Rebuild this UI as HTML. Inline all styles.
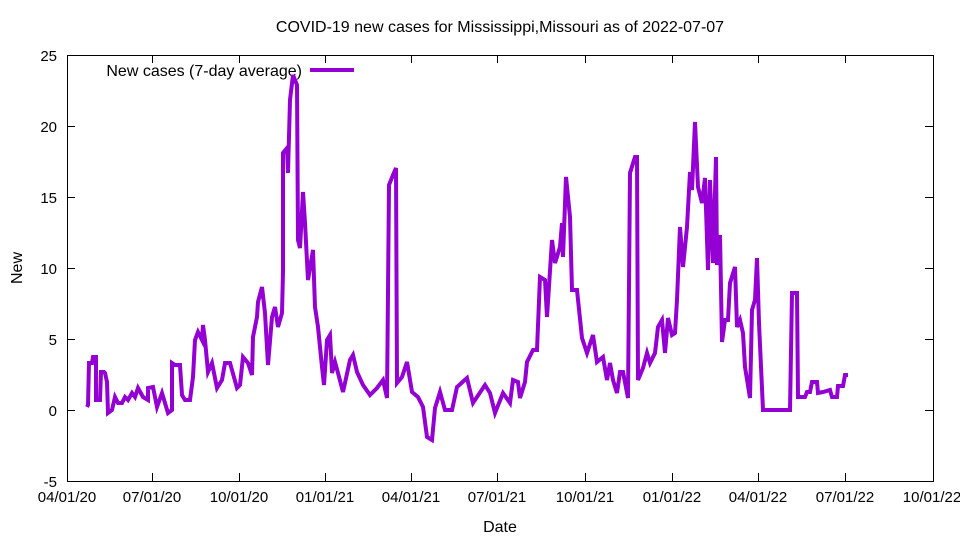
<!DOCTYPE html>
<html><head><meta charset="utf-8"><style>
html,body{margin:0;padding:0;background:#fff;}
svg text{font-family:"Liberation Sans",sans-serif;font-size:16px;fill:#000;}
svg .t{font-size:15px;}
</style></head><body>
<svg width="960" height="540" viewBox="0 0 960 540" xmlns="http://www.w3.org/2000/svg">
<rect width="960" height="540" fill="#fff"/>
<text x="500" y="32" text-anchor="middle">COVID-19 new cases for Mississippi,Missouri as of 2022-07-07</text>
<g stroke="#000" stroke-width="1" fill="none">
<rect x="67.5" y="55.5" width="866" height="426"/>
<path d="M67 55.5h8M933 55.5h-8M67 126.5h8M933 126.5h-8M67 197.5h8M933 197.5h-8M67 268.5h8M933 268.5h-8M67 339.5h8M933 339.5h-8M67 410.5h8M933 410.5h-8M67 481.5h8M933 481.5h-8"/>
<path d="M67.5 481v-8M67.5 55v8M152.5 481v-8M152.5 55v8M239.5 481v-8M239.5 55v8M325.5 481v-8M325.5 55v8M411.5 481v-8M411.5 55v8M497.5 481v-8M497.5 55v8M585.5 481v-8M585.5 55v8M672.5 481v-8M672.5 55v8M758.5 481v-8M758.5 55v8M845.5 481v-8M845.5 55v8M933.5 481v-8M933.5 55v8"/>
</g>
<g text-anchor="end" class="t">
<text class="t" x="57" y="61">25</text><text class="t" x="57" y="132">20</text><text class="t" x="57" y="203">15</text><text class="t" x="57" y="274">10</text><text class="t" x="57" y="345">5</text><text class="t" x="57" y="416">0</text><text class="t" x="57" y="487">-5</text>
</g>
<g text-anchor="middle">
<text class="t" x="67" y="502">04/01/20</text><text class="t" x="152" y="502">07/01/20</text><text class="t" x="239" y="502">10/01/20</text><text class="t" x="325" y="502">01/01/21</text><text class="t" x="411" y="502">04/01/21</text><text class="t" x="497" y="502">07/01/21</text><text class="t" x="585" y="502">10/01/21</text><text class="t" x="672" y="502">01/01/22</text><text class="t" x="758" y="502">04/01/22</text><text class="t" x="845" y="502">07/01/22</text><text class="t" x="932" y="502">10/01/22</text>
<text x="500" y="532">Date</text>
<text transform="translate(22,268) rotate(-90)">New</text>
</g>
<text x="302" y="76" text-anchor="end">New cases (7-day average)</text>
<line x1="310" y1="70" x2="354" y2="70" stroke="#9400d3" stroke-width="4"/>
<polyline fill="none" stroke="#9400d3" stroke-width="4" stroke-linejoin="miter" points="87,407 88,405 89,363 92,363 93,357 96,357 96,400 100,400 101,372 104,372 105,373 107,382 108,413 112,410 115,397 118,403 122,403 125,397 128,400 132,393 135,397 138,388 143,397 148,400 148,388 153,387 157,407 162,393 168,413 172,410 172,363 175,365 180,365 182,395 185,400 190,400 193,377 195,340 198,332 202,340 203,325 205,340 208,372 212,363 217,388 222,380 225,363 230,363 237,388 240,385 243,357 248,363 252,375 253,337 257,317 258,302 262,287 265,313 268,365 272,317 275,307 278,327 282,313 283,272 283,153 287,148 288,173 290,100 293,75 297,85 298,240 300,248 303,192 305,223 308,280 313,250 315,307 318,327 322,367 324,385 327,340 330,335 332,373 335,362 338,373 343,392 350,360 353,355 357,372 363,385 370,395 377,388 383,380 387,398 389,185 393,175 396,168 397,383 402,377 407,362 410,380 412,392 418,397 423,407 427,437 432,440 435,408 440,392 445,410 452,410 457,387 467,378 473,403 485,385 490,393 495,413 503,393 510,403 513,380 518,382 520,398 525,382 527,362 533,350 537,350 540,277 545,280 547,317 552,240 555,263 560,247 562,223 563,257 566,177 570,217 572,290 577,290 582,338 587,353 593,335 597,362 603,357 607,380 610,363 613,380 617,393 620,372 623,372 628,398 630,173 635,157 637,157 638,380 643,368 647,353 650,363 655,353 658,327 662,320 665,353 668,318 672,335 675,333 677,300 680,227 683,267 687,227 690,172 692,190 695,122 698,187 702,203 705,178 708,270 710,180 713,263 716,157 717,265 720,235 722,342 725,320 728,320 730,283 735,267 737,327 740,320 743,333 745,367 750,398 752,310 755,300 757,258 759,323 763,410 790,410 792,293 797,293 798,397 805,397 807,392 810,392 812,382 817,382 818,393 823,392 830,390 832,397 837,397 838,386 843,386 845,375 848,375"/>
</svg>
</body></html>
